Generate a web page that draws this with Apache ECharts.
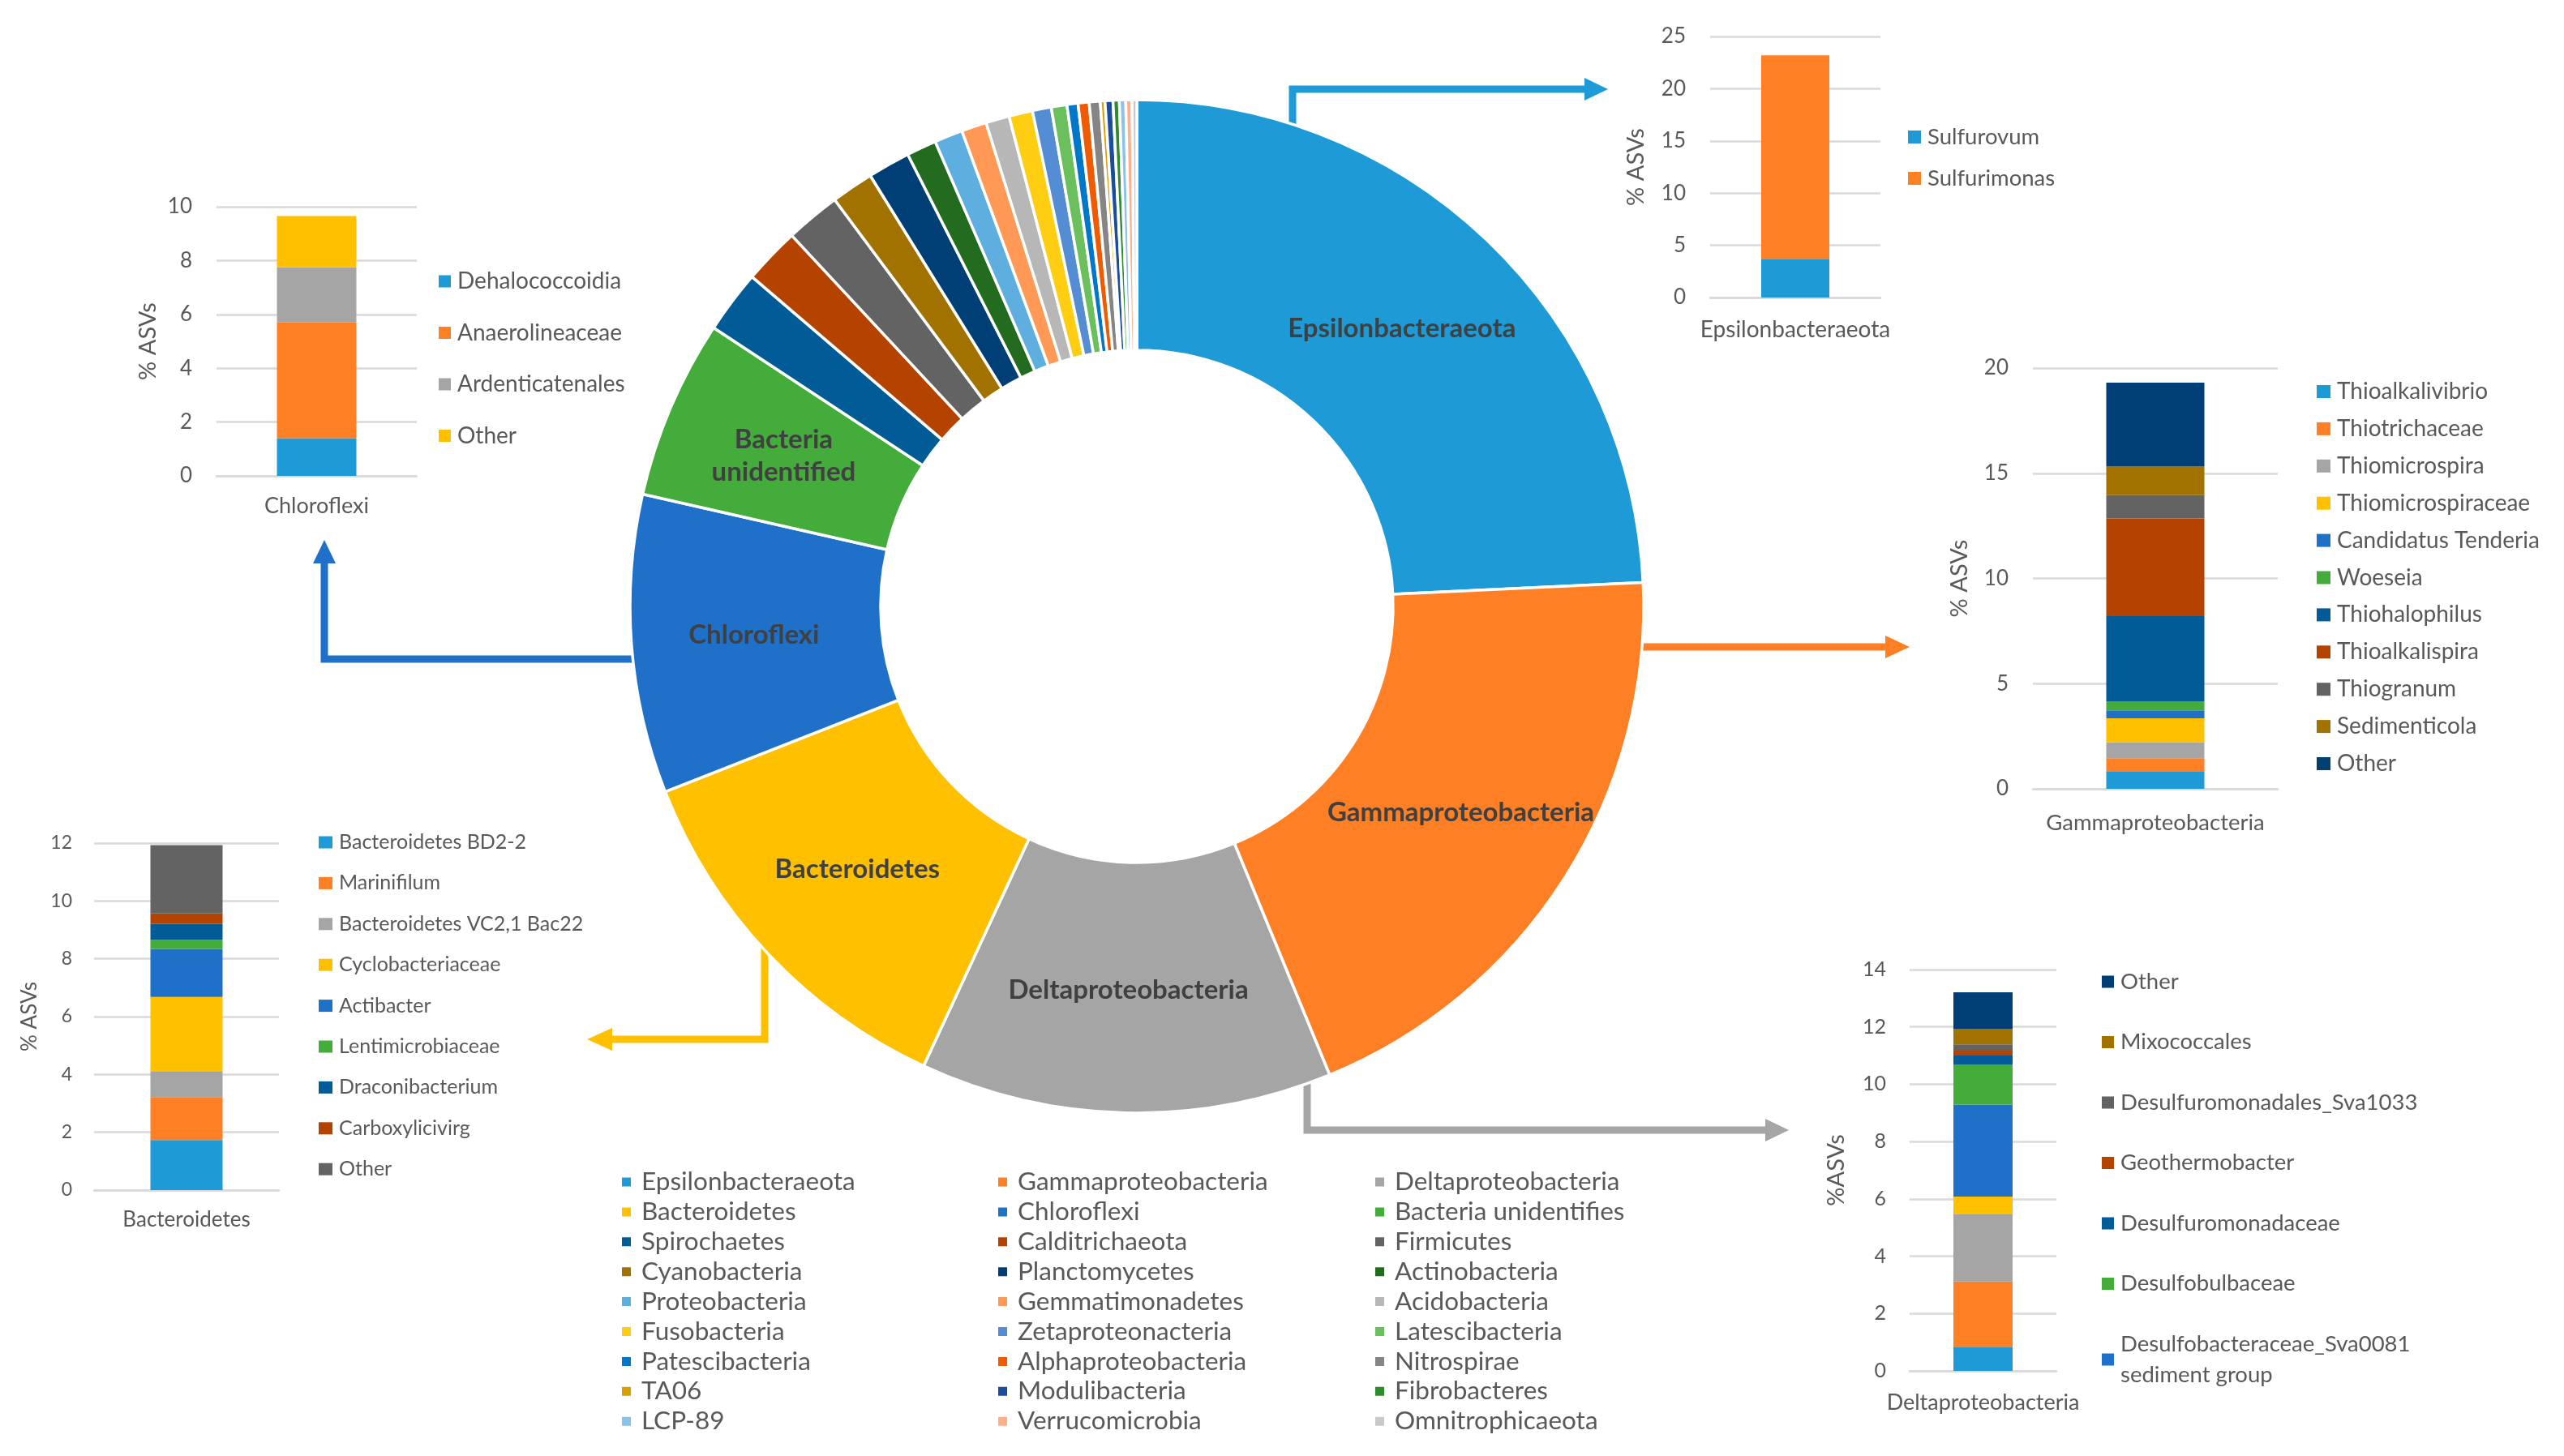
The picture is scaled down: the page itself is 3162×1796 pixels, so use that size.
<!DOCTYPE html>
<html>
<head>
<meta charset="utf-8">
<script src="https://cdn.jsdelivr.net/npm/echarts@6/dist/echarts.min.js"></script>
<style>
html,body{margin:0;padding:0;background:#fff;width:3162px;height:1796px;overflow:hidden}
.layer{position:absolute;left:0;top:0;width:3162px;height:1796px}
</style>
</head>
<body>
<div id="pie" class="layer"></div>
<div id="chloro" class="layer"></div>
<div id="eps" class="layer"></div>
<div id="gamma" class="layer"></div>
<div id="delta" class="layer"></div>
<div id="bact" class="layer"></div>
<script>
// ---------------- DATA ----------------
const pieNames = ['Epsilonbacteraeota','Gammaproteobacteria','Deltaproteobacteria','Bacteroidetes','Chloroflexi','Bacteria unidentifies',
  'Spirochaetes','Calditrichaeota','Firmicutes','Cyanobacteria','Planctomycetes','Actinobacteria',
  'Proteobacteria','Gemmatimonadetes','Acidobacteria','Fusobacteria','Zetaproteonacteria','Latescibacteria',
  'Patescibacteria','Alphaproteobacteria','Nitrospirae','TA06','Modulibacteria','Fibrobacteres',
  'LCP-89','Verrucomicrobia','Omnitrophicaeota'];
const pieValues = [24.2,19.5,13.1,12.1,9.5,5.7,
  2.0,1.8,1.75,1.35,1.35,0.95,
  0.9,0.8,0.75,0.75,0.6,0.5,
  0.35,0.35,0.35,0.15,0.25,0.2,
  0.2,0.2,0.15];
const pieLabels = ['Epsilonbacteraeota','Gammaproteobacteria','Deltaproteobacteria','Bacteroidetes','Chloroflexi','Bacteria\nunidentified'];

const chloroCat = 'Chloroflexi';
const chloroNames = ['Dehalococcoidia','Anaerolineaceae','Ardenticatenales','Other'];
const chloroValues = [1.4,4.3,2.05,1.9];

const epsCat = 'Epsilonbacteraeota';
const epsNames = ['Sulfurovum','Sulfurimonas'];
const epsValues = [3.7,19.5];

const gammaCat = 'Gammaproteobacteria';
const gammaNames = ['Thioalkalivibrio','Thiotrichaceae','Thiomicrospira','Thiomicrospiraceae','Candidatus Tenderia','Woeseia','Thiohalophilus','Thioalkalispira','Thiogranum','Sedimenticola','Other'];
const gammaValues = [0.84,0.61,0.76,1.14,0.38,0.41,4.07,4.64,1.11,1.36,3.99];

const deltaCat = 'Deltaproteobacteria';
const deltaNames = ['Delta group 1','Delta group 2','Delta group 3','Delta group 4','Desulfobacteraceae_Sva0081 sediment group','Desulfobulbaceae','Desulfuromonadaceae','Geothermobacter','Desulfuromonadales_Sva1033','Mixococcales','Other'];
const deltaValues = [0.84,2.28,2.34,0.62,3.21,1.40,0.31,0.17,0.22,0.53,1.29];
const deltaLegend = ['Other','Mixococcales','Desulfuromonadales_Sva1033','Geothermobacter','Desulfuromonadaceae','Desulfobulbaceae','Desulfobacteraceae_Sva0081 sediment group'];

const bactCat = 'Bacteroidetes';
const bactNames = ['Bacteroidetes BD2-2','Marinifilum','Bacteroidetes VC2,1 Bac22','Cyclobacteriaceae','Actibacter','Lentimicrobiaceae','Draconibacterium','Carboxylicivirg','Other'];
const bactValues = [1.73,1.49,0.87,2.59,1.66,0.32,0.54,0.37,2.36];

// ---------------- STYLE ----------------
const FONT = 'Lato, "Open Sans", sans-serif';
const TXT = '#595959';
const GRIDC = '#D9D9D9';
const barPalette = ['#1E9BD7','#FE7F24','#A5A5A5','#FFC000','#1E70C8','#43AC3A','#005B96','#B54300','#636363','#A27200','#003F75'];
const pieColors = ['#1E9BD7','#FE7F24','#A5A5A5','#FFC000','#1E70C8','#43AC3A','#005B96','#B54300','#636363','#A27200','#003F75',
  '#236B1F','#5EAEE0','#FF9955','#B7B7B7','#FFCD12','#548DD4','#6BBF5C','#0077C8','#F05A00','#858585','#D9A000',
  '#1A4E9C','#2E8B2E','#8BC2EA','#FFB088','#C9C9C9'];

// ---------------- PIE ----------------
const pieChart = echarts.init(document.getElementById('pie'));
const pieData = pieNames.map((n,i)=>({
  name:n, value:pieValues[i],
  itemStyle:{color:pieColors[i]},
  label:{show:i<pieLabels.length}
}));
function colLegend(col, left){
  return {
    orient:'vertical', left:left, top:1442, padding:0,
    itemWidth:13, itemHeight:13, itemGap:4.9, icon:'rect', selectedMode:false,
    data: pieNames.filter((n,i)=>i%3===col),
    textStyle:{color:TXT, fontSize:31.5, lineHeight:30, fontFamily:FONT, padding:[0,0,0,7]}
  };
}
function arrow(points, head, color){
  return [
    {type:'polyline', shape:{points:points}, style:{stroke:color, lineWidth:9, fill:null, lineJoin:'miter', lineCap:'butt'}, z:1},
    {type:'polygon', shape:{points:head}, style:{fill:color}, z:1}
  ];
}
pieChart.setOption({
  animation:false,
  textStyle:{fontFamily:FONT},
  legend:[colLegend(0,765), colLegend(1,1229), colLegend(2,1694)],
  graphic:[].concat(
    arrow([[1594,156],[1594,110],[1956,110]], [[1954,96],[1954,124],[1983,110]], '#1E9BD7'),
    arrow([[2022,798],[2327,798]], [[2325,784],[2325,812],[2355,798]], '#FE7F24'),
    arrow([[1612,1332],[1612,1394],[2179,1394]], [[2177,1380],[2177,1408],[2206,1394]], '#A5A5A5'),
    arrow([[943,1166],[943,1282],[753,1282]], [[755,1268],[755,1296],[724,1282]], '#FFC000'),
    arrow([[780,813],[400,813],[400,693]], [[386,695],[414,695],[400,666]], '#1E70C8')
  ),
  series:[{
    type:'pie', center:[1402,748], radius:[316,625], startAngle:90, clockwise:true,
    avoidLabelOverlap:false, emphasis:{disabled:true},
    itemStyle:{borderColor:'#fff', borderWidth:3.5},
    label:{position:'inside', color:'#404040', fontSize:33, fontWeight:'bold', fontFamily:FONT, lineHeight:40,
      formatter:p=>pieLabels[p.dataIndex]||''},
    labelLine:{show:false},
    data:pieData
  }]
});

// ---------------- BARS ----------------
function makeBar(id, c){
  const ch = echarts.init(document.getElementById(id));
  const series = c.names.map((n,i)=>({
    name:n, type:'bar', stack:'s', barWidth:c.barWidth, data:[c.values[i]],
    itemStyle:{color:barPalette[i]}, emphasis:{disabled:true}
  }));
  ch.setOption({
    animation:false,
    textStyle:{fontFamily:FONT},
    grid:{left:c.grid[0], top:c.grid[1], width:c.grid[2], height:c.grid[3], outerBoundsMode:'none', containLabel:false},
    xAxis:{type:'category', data:[c.cat],
      axisLine:{show:true, lineStyle:{color:GRIDC, width:2.5}}, axisTick:{show:false},
      axisLabel:{color:TXT, fontSize:c.catFont, margin:c.catMargin, fontFamily:FONT}},
    yAxis:{type:'value', min:0, max:c.max, interval:c.interval,
      axisLine:{show:false}, axisTick:{show:false},
      splitLine:{lineStyle:{color:GRIDC, width:2.5}},
      axisLabel:{color:TXT, fontSize:c.tickFont, margin:c.tickMargin, fontFamily:FONT},
      name:c.yName, nameLocation:'middle', nameRotate:90, nameGap:c.nameGap,
      nameTextStyle:{color:TXT, fontSize:c.nameFont, fontFamily:FONT}},
    legend:{orient:'vertical', left:c.leg[0], top:c.leg[1], itemWidth:c.leg[2], itemHeight:c.leg[3], itemGap:c.leg[4],
      padding:0, icon:'rect', selectedMode:false, data:c.legendData,
      formatter:c.legFormatter||(n=>n),
      textStyle:{color:TXT, fontSize:c.legFont, lineHeight:c.legLH, fontFamily:FONT, padding:[0,0,0,3]}},
    series
  });
}

makeBar('chloro', {cat:chloroCat, names:chloroNames, values:chloroValues,
  grid:[267,255,247,332], max:10, interval:2, barWidth:98,
  catFont:27, catMargin:24, tickFont:26, tickMargin:30, yName:'% ASVs', nameGap:70, nameFont:29,
  leg:[541,332,15,15,33.5], legendData:chloroNames, legFont:28, legLH:30});

makeBar('eps', {cat:epsCat, names:epsNames, values:epsValues,
  grid:[2109,45,210,322], max:25, interval:5, barWidth:84,
  catFont:28, catMargin:26, tickFont:26, tickMargin:30, yName:'% ASVs', nameGap:77, nameFont:29,
  leg:[2353,154,16,16,21], legendData:epsNames, legFont:27.5, legLH:30});

makeBar('gamma', {cat:gammaCat, names:gammaNames, values:gammaValues,
  grid:[2507,454,302,519], max:20, interval:5, barWidth:121,
  catFont:27.5, catMargin:28, tickFont:26, tickMargin:30, yName:'% ASVs', nameGap:76, nameFont:29,
  leg:[2857,468,17,16,15.9], legendData:gammaNames, legFont:28, legLH:30});

makeBar('delta', {cat:deltaCat, names:deltaNames, values:deltaValues,
  grid:[2355,1196,181,495], max:14, interval:2, barWidth:73,
  catFont:27, catMargin:26, tickFont:25, tickMargin:29, yName:'%ASVs', nameGap:76, nameFont:29,
  leg:[2592,1192,15,15,36.5], legendData:deltaLegend, legFont:27.5, legLH:38,
  legFormatter:n=>n.replace(' sediment group','\nsediment group')});

makeBar('bact', {cat:bactCat, names:bactNames, values:bactValues,
  grid:[116,1040,228,428], max:12, interval:2, barWidth:89,
  catFont:26, catMargin:24, tickFont:23, tickMargin:27, yName:'% ASVs', nameGap:66, nameFont:26,
  leg:[393,1024,17,15,20.4], legendData:bactNames, legFont:25, legLH:30});
</script>
</body>
</html>
